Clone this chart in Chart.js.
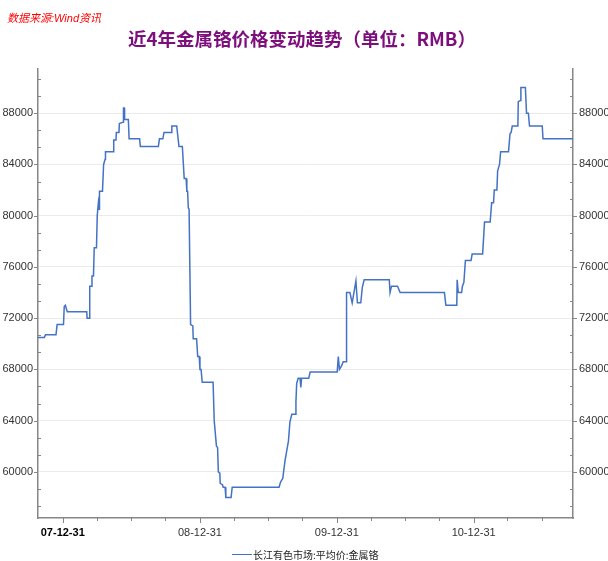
<!DOCTYPE html>
<html>
<head>
<meta charset="utf-8">
<script src="https://cdn.jsdelivr.net/npm/chart.js@4"></script>
<style>
  body { margin: 0; background: #fff; }
  #wrap { position: relative; width: 608px; height: 561px; overflow: hidden; background: #fff; }
  #c { position: absolute; left: 0; top: 0; }
  .src { position: absolute; left: 7px; top: 11px; font: italic 11px "Liberation Sans", "Noto Sans CJK SC", sans-serif; color: #ff0000; white-space: nowrap; line-height: 14px; }
  .title { position: absolute; left: 0; width: 604px; top: 26px; text-align: center; font: bold 18.5px "Noto Sans CJK SC", sans-serif; color: #7c0f7c; line-height: 24px; white-space: nowrap; }
  .legend { position: absolute; left: 232px; top: 547px; height: 14px; display: flex; align-items: center; font: 10px "Noto Sans CJK SC", sans-serif; color: #222; white-space: nowrap; }
  .legend .ln { width: 20px; height: 0; border-top: 1.5px solid #4472c4; margin-right: 1px; }
</style>
</head>
<body>
<div id="wrap">
  <canvas id="c" width="608" height="561"></canvas>
  <div class="src">数据来源:Wind资讯</div>
  <div class="title">近4年金属铬价格变动趋势（单位：RMB）</div>
  <div class="legend"><span class="ln"></span><span id="legText"></span></div>
</div>
<script>
// ---------- data ----------
const seriesName = '长江有色市场:平均价:金属铬';
const dates = [
'2007-10-26','2007-11-12','2007-11-15','2007-12-13','2007-12-16','2008-01-02','2008-01-04','2008-01-07','2008-01-12','2008-03-04',
'2008-03-05','2008-03-11','2008-03-12','2008-03-17','2008-03-18','2008-03-22','2008-03-24','2008-03-30','2008-04-01','2008-04-04',
'2008-04-06','2008-04-07','2008-04-15','2008-04-18','2008-04-22','2008-04-23','2008-05-14','2008-05-15','2008-05-21','2008-05-22',
'2008-05-29','2008-05-30','2008-06-09','2008-06-10','2008-06-12','2008-06-13','2008-06-23','2008-06-25','2008-07-23','2008-07-25',
'2008-09-11','2008-09-14','2008-09-23','2008-09-26','2008-10-15','2008-10-17','2008-10-30','2008-11-05','2008-11-14','2008-11-19',
'2008-11-24','2008-11-26','2008-11-28','2008-11-30','2008-12-02','2008-12-06','2008-12-12','2008-12-13','2008-12-22','2008-12-25',
'2008-12-29','2008-12-31','2009-01-03','2009-01-06','2009-02-04','2009-02-07','2009-02-13','2009-02-16','2009-02-18','2009-02-22',
'2009-02-23','2009-03-01','2009-03-03','2009-03-08','2009-03-10','2009-03-24','2009-03-27','2009-07-30','2009-08-03','2009-08-09',
'2009-08-11','2009-08-15','2009-08-18','2009-08-24','2009-08-28','2009-09-02','2009-09-11','2009-09-13','2009-09-15','2009-09-19',
'2009-09-24','2009-09-26','2009-09-28','2009-10-17','2009-10-21','2010-01-01','2010-01-04','2010-01-07','2010-01-13','2010-01-17',
'2010-01-25','2010-01-26','2010-02-04','2010-02-10','2010-02-20','2010-02-24','2010-03-05','2010-03-09','2010-03-14','2010-05-20',
'2010-05-22','2010-05-26','2010-06-11','2010-06-18','2010-10-14','2010-10-18','2010-11-16','2010-11-17','2010-11-20','2010-11-29',
'2010-12-01','2010-12-05','2010-12-09','2010-12-24','2010-12-27','2011-01-24','2011-01-29','2011-02-13','2011-02-17','2011-02-22',
'2011-02-24','2011-03-03','2011-03-05','2011-03-10','2011-03-13','2011-04-03','2011-04-07','2011-04-10','2011-04-13','2011-04-28',
'2011-04-29','2011-05-05','2011-05-06','2011-05-18','2011-05-21','2011-05-26','2011-05-29','2011-07-02','2011-07-04','2011-09-22'
];
const prices = [
70500,70500,70700,70700,71500,71500,72900,73000,72500,72500,
72000,72000,74500,74500,75300,75300,77500,77500,80000,81000,
80500,81900,81900,84000,84400,85000,85000,85900,85900,86500,
86500,87200,87300,88400,88400,87500,87500,86000,86000,85400,
85400,86000,86000,86500,86500,87000,87000,85400,85400,82900,
82900,81900,81900,80600,80500,71500,71400,70400,70400,69000,
69000,68000,68000,67000,67000,64000,62000,61900,60000,59900,
59100,59000,58800,58800,58000,58000,58800,58800,59200,59500,
60000,60900,61400,62400,63900,64500,64500,65500,66900,67300,
67300,66600,67300,67300,67800,67800,69000,68000,68300,68600,
68600,74000,74000,73200,74900,73200,73200,74400,75000,75000,
74000,74500,74500,74000,74000,73000,73000,75000,74000,74000,
74500,74800,76500,76500,77000,77000,79500,79500,81000,81000,
82000,82000,83500,84000,85000,85000,86400,86500,87000,87000,
88900,89000,90000,90000,88000,88000,87000,87000,86000,86000
];
// axis ranges and ticks
const xRange = ['2007-10-26', '2011-09-22'];
const xMajorDates = ['2007-12-31', '2008-12-31', '2009-12-31', '2010-12-31'];
const xMajorLabels = ['07-12-31', '08-12-31', '09-12-31', '10-12-31'];
const xMinorDates = ['2008-03-31','2008-06-30','2008-09-30','2009-03-31','2009-06-30','2009-09-30',
                     '2010-03-31','2010-06-30','2010-09-30','2011-03-31','2011-06-30'];
const yRange = [56400, 91450];
const yMajorTicks = [60000, 64000, 68000, 72000, 76000, 80000, 84000, 88000];
const yMinorPerMajor = 3;

// ---------- helpers ----------
const BASE = Date.UTC(2007, 11, 31);
function dayNum(s) { const [y, m, d] = s.split('-').map(Number); return (Date.UTC(y, m - 1, d) - BASE) / 86400000; }
const points = dates.map((d, i) => ({ x: dayNum(d), y: prices[i] }));
const xMajorVals = xMajorDates.map(dayNum);
const xMinorVals = xMinorDates.map(dayNum);
const yStep = yMajorTicks[1] - yMajorTicks[0];
const yTickVals = [];
for (let m = yMajorTicks[0] - yStep; m <= yMajorTicks[yMajorTicks.length - 1] + yStep; m += yStep) {
  for (let k = 0; k < yMinorPerMajor; k++) {
    const v = m + k * yStep / yMinorPerMajor;
    if (v >= yRange[0] && v <= yRange[1]) yTickVals.push(v);
  }
}
const isMajorY = v => yMajorTicks.some(t => Math.abs(t - v) < 1);
const isMajorX = v => xMajorVals.some(t => Math.abs(t - v) < 0.01);
document.getElementById('legText').textContent = seriesName;

const AXIS = '#868686';
const tickMarks = {
  id: 'tickMarks',
  afterDraw(chart) {
    const ctx = chart.ctx, a = chart.chartArea;
    ctx.save();
    ctx.strokeStyle = AXIS; ctx.lineWidth = 1;
    const yl = chart.scales.y;
    yTickVals.forEach(v => {
      const p = Math.round(yl.getPixelForValue(v)) + 0.5;
      ctx.beginPath();
      if (isMajorY(v)) {
        ctx.moveTo(a.left - 4, p); ctx.lineTo(a.left, p);
        ctx.moveTo(a.right, p); ctx.lineTo(a.right + 4, p);
      } else {
        ctx.moveTo(a.left, p); ctx.lineTo(a.left + 3, p);
        ctx.moveTo(a.right - 3, p); ctx.lineTo(a.right, p);
      }
      ctx.stroke();
    });
    const xs = chart.scales.x;
    xMajorVals.concat(xMinorVals).forEach(v => {
      const p = Math.round(xs.getPixelForValue(v)) + 0.5;
      ctx.beginPath();
      ctx.moveTo(p, a.bottom);
      ctx.lineTo(p, a.bottom + (isMajorX(v) ? 5 : 3));
      ctx.stroke();
    });
    ctx.restore();
  }
};

const yScaleBase = (pos, width) => ({
  type: 'linear', position: pos, min: yRange[0], max: yRange[1],
  afterBuildTicks: s => { s.ticks = yTickVals.map(v => ({ value: v })); },
  afterFit: s => { s.width = width; },
  border: { display: true, color: AXIS, width: 1.5 },
  grid: {
    drawOnChartArea: pos === 'left',
    color: c => (c.tick && isMajorY(c.tick.value)) ? '#ebebeb' : 'rgba(0,0,0,0)',
    tickColor: 'rgba(0,0,0,0)', tickLength: 4, lineWidth: 1
  },
  ticks: {
    autoSkip: false, padding: pos === 'left' ? 1 : 2,
    color: '#333', font: { family: '"Liberation Sans", Arial, sans-serif', size: 11 },
    callback: v => isMajorY(v) ? String(Math.round(v)) : ''
  }
});

new Chart(document.getElementById('c'), {
  type: 'line',
  data: {
    datasets: [{
      label: seriesName, data: points,
      borderColor: '#4472c4', backgroundColor: '#4472c4',
      borderWidth: 1.5, pointRadius: 0, tension: 0, fill: false
    }]
  },
  options: {
    responsive: false, animation: false, devicePixelRatio: 1,
    layout: { padding: { top: 69, left: 0, right: 0, bottom: 0 } },
    plugins: { legend: { display: false }, title: { display: false }, tooltip: { enabled: false } },
    scales: {
      x: {
        type: 'linear', min: dayNum(xRange[0]), max: dayNum(xRange[1]),
        afterBuildTicks: s => { s.ticks = xMajorVals.concat(xMinorVals).sort((a, b) => a - b).map(v => ({ value: v })); },
        afterFit: s => { s.height = 43; },
        border: { display: true, color: AXIS, width: 1.5 },
        grid: { color: 'rgba(0,0,0,0)', tickColor: 'rgba(0,0,0,0)', tickLength: 5 },
        ticks: {
          autoSkip: false, maxRotation: 0, minRotation: 0, padding: 3,
          color: c => (c.tick && c.tick.value === xMajorVals[0]) ? '#000' : '#333',
          font: c => ({ family: '"Liberation Sans", Arial, sans-serif', size: 11,
                        weight: (c.tick && c.tick.value === xMajorVals[0]) ? 'bold' : 'normal' }),
          callback: v => { const i = xMajorVals.findIndex(t => Math.abs(t - v) < 0.01); return i >= 0 ? xMajorLabels[i] : ''; }
        }
      },
      y: yScaleBase('left', 38),
      y2: yScaleBase('right', 35)
    }
  },
  plugins: [tickMarks]
});
</script>
</body>
</html>
